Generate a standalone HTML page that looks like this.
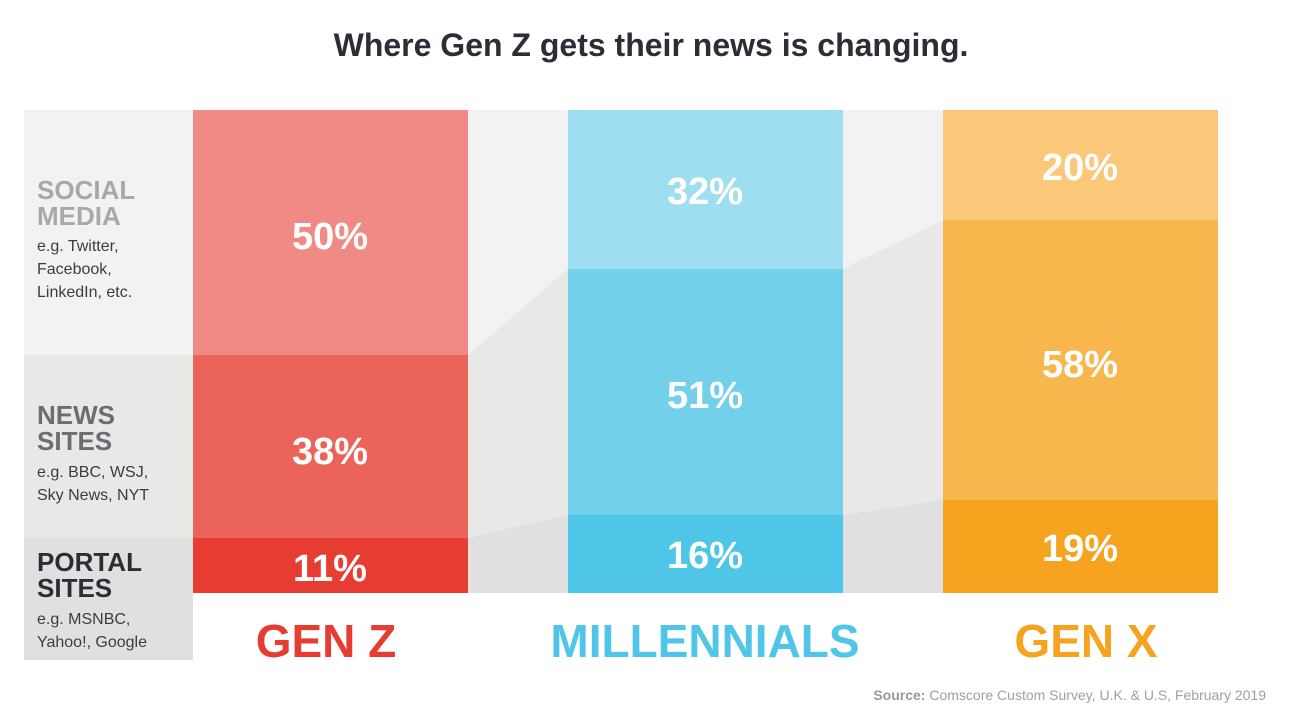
<!DOCTYPE html>
<html><head><style>
body{margin:0;width:1311px;height:713px;background:#fff;overflow:hidden}
text{font-family:"Liberation Sans",sans-serif}
</style></head><body>
<svg width="1311" height="713" viewBox="0 0 1311 713">
<text x="651" y="56" text-anchor="middle" font-size="32" font-weight="bold" fill="#2b2e36">Where Gen Z gets their news is changing.</text>
<rect x="24" y="110" width="1194" height="483" fill="#f2f2f2"/>
<polygon points="24,355 468,355 568,269 843,269 943,220 1218,220 1218,593 24,593" fill="#e8e8e7"/>
<polygon points="24,538 468,538 568,515 843,515 943,500 1218,500 1218,593 24,593" fill="#dfe0df"/>
<rect x="24" y="538" width="169" height="122" fill="#dfe0df"/>
<rect x="193" y="110" width="275" height="245" fill="#f08a84"/>
<rect x="193" y="355" width="275" height="183" fill="#ea645a"/>
<rect x="193" y="538" width="275" height="55" fill="#e63c32"/>
<rect x="568" y="110" width="275" height="159" fill="#9fdef0"/>
<rect x="568" y="269" width="275" height="246" fill="#72d0ea"/>
<rect x="568" y="515" width="275" height="78" fill="#4fc5e8"/>
<rect x="943" y="110" width="275" height="110" fill="#fbc87a"/>
<rect x="943" y="220" width="275" height="280" fill="#f8b74c"/>
<rect x="943" y="500" width="275" height="93" fill="#f6a31f"/>
<g font-size="38" font-weight="bold" fill="#fff" text-anchor="middle">
<text x="330" y="249">50%</text><text x="330" y="464">38%</text><text x="330" y="581">11%</text>
<text x="705" y="204">32%</text><text x="705" y="408">51%</text><text x="705" y="568">16%</text>
<text x="1080" y="180">20%</text><text x="1080" y="377">58%</text><text x="1080" y="561">19%</text>
</g>
<g font-weight="bold" font-size="26">
<text x="37" y="199" fill="#a7a8ac">SOCIAL</text><text x="37" y="225" fill="#a7a8ac">MEDIA</text>
<text x="37" y="424" fill="#6a6d74">NEWS</text><text x="37" y="450" fill="#6a6d74">SITES</text>
<text x="37" y="571" fill="#2b2e36">PORTAL</text><text x="37" y="597" fill="#2b2e36">SITES</text>
</g>
<g font-size="16" fill="#3a3c42">
<text x="37" y="251">e.g. Twitter,</text><text x="37" y="274">Facebook,</text><text x="37" y="297">LinkedIn, etc.</text>
<text x="37" y="477">e.g. BBC, WSJ,</text><text x="37" y="500">Sky News, NYT</text>
<text x="37" y="624">e.g. MSNBC,</text><text x="37" y="647">Yahoo!, Google</text>
</g>
<g font-size="46" font-weight="bold" text-anchor="middle">
<text x="326" y="657" fill="#e63c32">GEN Z</text>
<text x="705" y="657" fill="#4fc5e8">MILLENNIALS</text>
<text x="1086" y="657" fill="#f6a31f">GEN X</text>
</g>
<text x="1266" y="700" text-anchor="end" font-size="14" fill="#a0a0a0"><tspan font-weight="bold" fill="#999">Source:</tspan> Comscore Custom Survey, U.K. &amp; U.S, February 2019</text>
</svg>
</body></html>
